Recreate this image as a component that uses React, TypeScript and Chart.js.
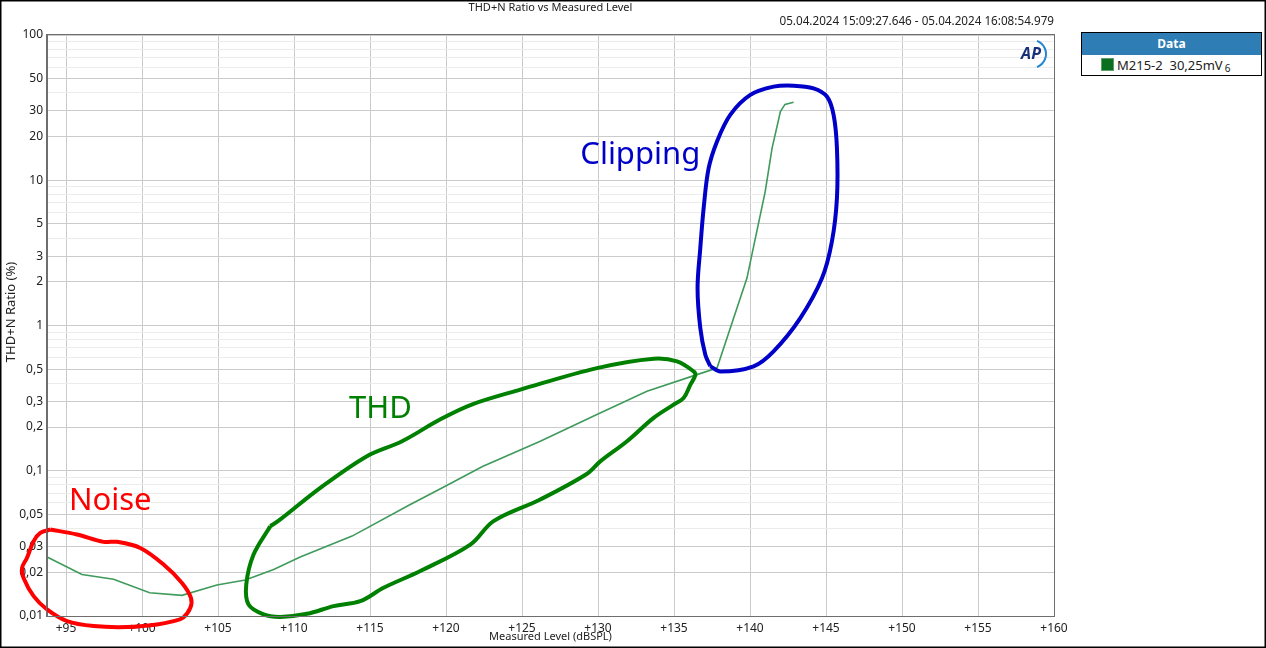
import React, { useEffect, useRef } from "react";
import { Chart, registerables } from "chart.js";
Chart.register(...registerables);

// ---- Measured data (Measured Level dBSPL vs THD+N %) ----
const levels = [93.79, 96.05, 98.13, 100.5, 102.63, 104.93, 106.8, 108.66, 110.41, 113.82, 117.65, 119.95, 122.4, 126.2, 129.93, 133.22, 136.51, 137.83, 139.8, 141.0, 141.45, 142.0, 142.3, 142.87];
const ratios = [0.0254, 0.0193, 0.0179, 0.01445, 0.01387, 0.01633, 0.01767, 0.0209, 0.0255, 0.0355, 0.0586, 0.0782, 0.107, 0.1596, 0.2436, 0.352, 0.459, 0.509, 2.12, 8.36, 16.6, 29.7, 33.3, 34.4];

// ---- Hand-drawn annotation loops (data coordinates) ----
const noiseLoopX = [93.97, 95.72, 97.47, 98.36, 99.89, 101.42, 102.63, 103.22, 103.18, 102.7, 102.08, 100.99, 99.01, 96.82, 95.07, 93.75, 92.87, 92.21, 92.11, 92.43, 92.87, 93.31, 93.97];
const noiseLoopY = [0.0394, 0.0364, 0.0324, 0.0324, 0.0294, 0.0226, 0.0169, 0.01334, 0.01138, 0.00972, 0.00922, 0.00875, 0.00839, 0.00852, 0.00922, 0.0111, 0.0137, 0.0183, 0.0215, 0.0251, 0.0327, 0.0373, 0.0394];

const thdLoopX = [108.44, 109.1, 111.73, 114.8, 117.11, 119.63, 121.73, 124.89, 129.93, 133.66, 135.2, 136.29, 136.4, 136.08, 135.63, 134.97, 133.66, 131.91, 130.15, 129.23, 126.2, 123.13, 121.6, 118.31, 115.89, 114.36, 112.61, 110.86, 109.1, 108.0, 107.01, 106.86, 107.34, 108.44];
const thdLoopY = [0.0415, 0.0462, 0.0762, 0.126, 0.1596, 0.226, 0.2866, 0.3615, 0.509, 0.591, 0.566, 0.483, 0.454, 0.392, 0.317, 0.285, 0.231, 0.1596, 0.116, 0.0946, 0.0634, 0.045, 0.031, 0.0204, 0.01563, 0.01265, 0.0117, 0.01035, 0.00986, 0.01026, 0.012, 0.0165, 0.0265, 0.0415];

const clipLoopX = [137.39, 138.05, 140.24, 141.55, 143.31, 144.74, 145.39, 145.72, 145.72, 145.5, 145.07, 144.18, 142.87, 141.55, 140.02, 138.7, 137.83, 137.28, 136.95, 136.73, 136.55, 136.73, 137.06, 137.39];
const clipLoopY = [0.524, 0.483, 0.524, 0.664, 1.125, 2.12, 3.79, 7.52, 16.6, 28.2, 37.6, 42.9, 44.8, 44.1, 38.7, 28.2, 18.5, 12.1, 6.42, 3.41, 1.81, 0.96, 0.63, 0.524];

const annotationLabels = ["Noise", "THD", "Clipping"];
const annotationX = [97.91, 115.69, 132.78];
const annotationY = [0.0617, 0.265, 15.0];
const annotationColors = ["#ff0000", "#008000", "#0000c8"];

// ---- Axes ----
const xTickValues = [95, 100, 105, 110, 115, 120, 125, 130, 135, 140, 145, 150, 155, 160];
const yMajorTicks = [100, 50, 30, 20, 10, 5, 3, 2, 1, 0.5, 0.3, 0.2, 0.1, 0.05, 0.03, 0.02, 0.01];
const yTickLabels = ["100", "50", "30", "20", "10", "5", "3", "2", "1", "0,5", "0,3", "0,2", "0,1", "0,05", "0,03", "0,02", "0,01"];
const yMinorTicks = [90, 80, 70, 60, 40, 9, 8, 7, 6, 4, 0.9, 0.8, 0.7, 0.6, 0.4, 0.09, 0.08, 0.07, 0.06, 0.04];

const chartTitle = "THD+N Ratio vs Measured Level";
const dateRange = "05.04.2024 15:09:27.646 - 05.04.2024 16:08:54.979";
const xTitle = "Measured Level (dBSPL)";
const yTitle = "THD+N Ratio (%)";
const legendTitle = "Data";
const seriesName = "M215-2  30,25mV";
const seriesSub = "6";

const FONT = "'Noto Sans', 'Open Sans', sans-serif";

const toPts = (xs: number[], ys: number[]) => xs.map((x, i) => ({ x, y: ys[i] }));

export default function App() {
  const ref = useRef<HTMLCanvasElement | null>(null);

  useEffect(() => {
    if (!ref.current) return;
    const labelMap = new Map<number, string>();
    yMajorTicks.forEach((v, i) => labelMap.set(v, yTickLabels[i]));
    const majorSet = new Set(yMajorTicks);

    const decor = {
      id: "decor",
      afterDatasetsDraw(chart: any) {
        const { ctx, chartArea, scales } = chart;
        ctx.save();
        ctx.strokeStyle = "#6e6e6e";
        ctx.lineWidth = 1;
        ctx.strokeRect(chartArea.left - 0.5, chartArea.top - 0.5, chartArea.right - chartArea.left + 1, chartArea.bottom - chartArea.top + 1);
        ctx.font = `31px ${FONT}`;
        ctx.textAlign = "center";
        ctx.textBaseline = "middle";
        annotationLabels.forEach((t, i) => {
          ctx.fillStyle = annotationColors[i];
          ctx.fillText(t, scales.x.getPixelForValue(annotationX[i]), scales.y.getPixelForValue(annotationY[i]));
        });
        ctx.restore();
      },
      afterDraw(chart: any) {
        const { ctx, chartArea, width, height } = chart;
        ctx.save();
        ctx.fillStyle = "#222";
        ctx.font = `11px ${FONT}`;
        ctx.textBaseline = "middle";
        ctx.textAlign = "center";
        ctx.fillText(chartTitle, (chartArea.left + chartArea.right) / 2, 7.5);
        ctx.font = `11.7px ${FONT}`;
        ctx.textAlign = "right";
        ctx.fillText(dateRange, chartArea.right, 21.5);
        ctx.font = `11px ${FONT}`;
        ctx.textAlign = "center";
        ctx.fillText(xTitle, (chartArea.left + chartArea.right) / 2, 637);
        ctx.font = `13px ${FONT}`;
        ctx.translate(11, 312);
        ctx.rotate(-Math.PI / 2);
        ctx.fillText(yTitle, 0, 0);
        ctx.restore();
        // AP logo
        ctx.save();
        ctx.font = `italic bold 16px ${FONT}`;
        ctx.fillStyle = "#17307a";
        ctx.textAlign = "center";
        ctx.textBaseline = "middle";
        ctx.fillText("AP", 1031, 54);
        ctx.strokeStyle = "#1f86d1";
        ctx.lineWidth = 2;
        ctx.beginPath();
        ctx.arc(1032, 54, 14, -Math.PI / 2.6, Math.PI / 2.6);
        ctx.stroke();
        ctx.restore();
        // outer frame
        ctx.save();
        ctx.strokeStyle = "#000";
        ctx.lineWidth = 1.5;
        ctx.strokeRect(0.75, 0.75, width - 1.5, height - 1.5);
        ctx.restore();
      },
    };

    const loop = (xs: number[], ys: number[], color: string) => ({
      data: toPts(xs, ys),
      borderColor: color,
      borderWidth: 4,
      pointRadius: 0,
      tension: 0.35,
      fill: false,
      clip: false,
      order: 1,
    });

    const chart = new Chart(ref.current, {
      type: "line",
      data: {
        datasets: [
          {
            label: seriesName,
            data: toPts(levels, ratios),
            borderColor: "#3f9a5c",
            borderWidth: 1.6,
            pointRadius: 0,
            tension: 0,
            fill: false,
            order: 5,
          } as any,
          loop(noiseLoopX, noiseLoopY, "#ff0000"),
          loop(thdLoopX, thdLoopY, "#008000"),
          loop(clipLoopX, clipLoopY, "#0000c8"),
        ],
      },
      options: {
        animation: false,
        responsive: true,
        maintainAspectRatio: false,
        events: [],
        layout: { padding: { left: 0, top: 35, right: 212, bottom: 0 } },
        plugins: { legend: { display: false }, tooltip: { enabled: false }, title: { display: false } },
        scales: {
          x: {
            type: "linear",
            min: 93.75,
            max: 160,
            afterBuildTicks: (s: any) => {
              s.ticks = xTickValues.map((v) => ({ value: v }));
            },
            afterFit: (s: any) => {
              s.height = 32;
            },
            ticks: {
              autoSkip: false,
              maxRotation: 0,
              padding: 5,
              color: "#222",
              font: { family: FONT, size: 12 },
              callback: (v: any) => "+" + v,
            },
            grid: { color: "#cbcbcb", drawTicks: false },
            border: { color: "#6e6e6e" },
          },
          y: {
            type: "logarithmic",
            min: 0.01,
            max: 100,
            afterBuildTicks: (s: any) => {
              s.ticks = [...yMajorTicks, ...yMinorTicks].sort((a, b) => a - b).map((v) => ({ value: v }));
            },
            afterFit: (s: any) => {
              s.width = 47;
            },
            ticks: {
              autoSkip: false,
              padding: 4,
              color: "#222",
              font: { family: FONT, size: 12 },
              callback: (v: any) => labelMap.get(v) ?? "",
            },
            grid: {
              drawTicks: false,
              color: (c: any) => (c.tick && majorSet.has(c.tick.value) ? "#cbcbcb" : "#ececec"),
            },
            border: { color: "#6e6e6e" },
          },
        },
      },
      plugins: [decor],
    } as any);
    return () => chart.destroy();
  }, []);

  return (
    <div style={{ position: "absolute", left: 0, top: 0, width: 1266, height: 648, background: "#fff" }}>
      <canvas ref={ref} />
      <div
        style={{
          position: "absolute",
          left: 1081,
          top: 32,
          width: 181,
          height: 44,
          border: "1.5px solid #000",
          boxSizing: "border-box",
          background: "#fff",
          fontFamily: FONT,
        }}
      >
        <div
          style={{
            background: "#2e7db5",
            color: "#fff",
            fontWeight: "bold",
            fontSize: 12,
            height: 22,
            lineHeight: "22px",
            textAlign: "center",
          }}
        >
          {legendTitle}
        </div>
        <div style={{ display: "flex", alignItems: "center", height: 19, paddingLeft: 19, fontSize: 13, color: "#222", whiteSpace: "pre" }}>
          <span style={{ width: 11, height: 11, background: "#0a6f1f", border: "1px solid #5e9e6a", display: "inline-block", marginRight: 3 }} />
          <span>{seriesName}</span>
          <span style={{ fontSize: 10, position: "relative", top: 3, marginLeft: 2 }}>{seriesSub}</span>
        </div>
      </div>
    </div>
  );
}
